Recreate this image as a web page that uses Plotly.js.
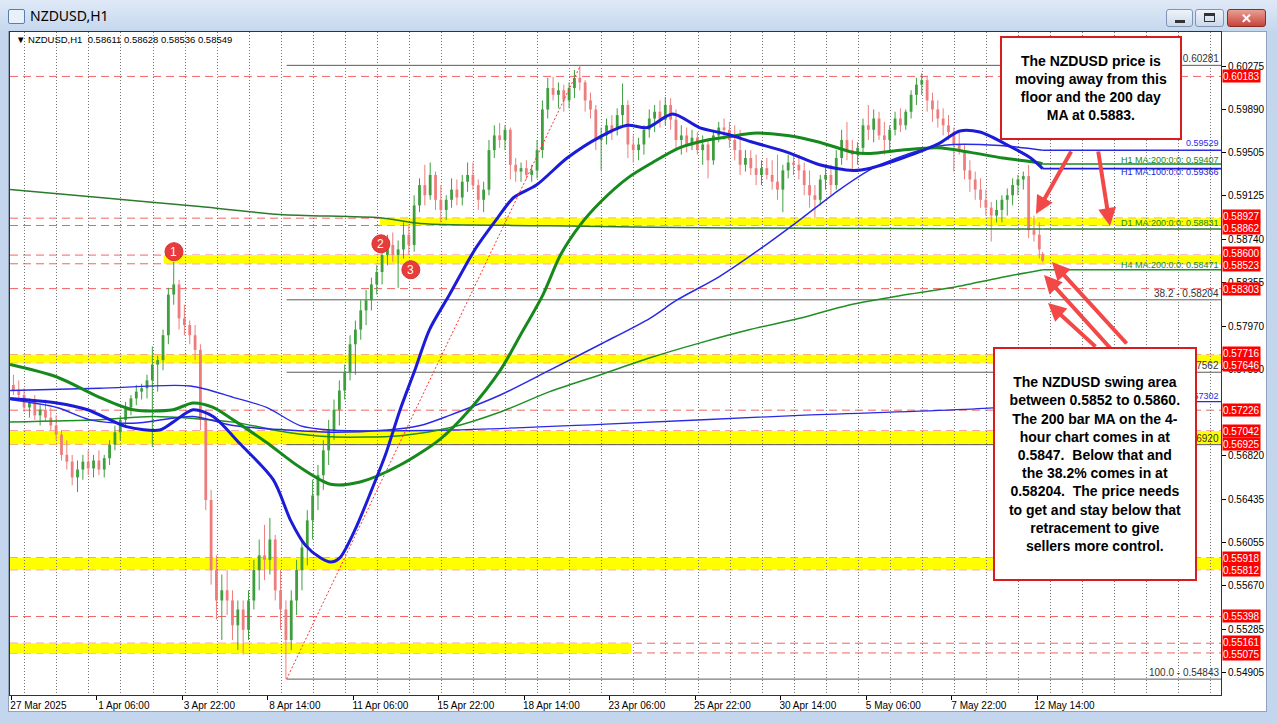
<!DOCTYPE html>
<html><head><meta charset="utf-8">
<script src="https://cdn.plot.ly/plotly-3.0.1.min.js"></script>
<style>
body{margin:0;width:1277px;height:724px;overflow:hidden;background:#c3d6ed;position:relative;font-family:"Noto Sans",sans-serif}
#titlebar{position:absolute;left:0;top:0;width:1277px;height:31px;background:linear-gradient(#dfe9f6,#c6d8ee)}
#ttl{position:absolute;left:30px;top:6px;font-size:14px;color:#000}
#icon{position:absolute;left:8px;top:9px;width:15px;height:13px;border:1px solid #5a7fae;background:#e8f0fa;border-radius:2px}
.btn{position:absolute;top:9px;height:18px;border:1px solid #7f95b3;border-radius:3px;background:linear-gradient(#eef3fa,#cbd9ea);box-sizing:border-box}
#client{position:absolute;left:8px;top:31px;width:1259px;height:681px;background:#fff;border:1px solid #8fa3bd;box-sizing:border-box}
#chart{position:absolute;left:0;top:0;width:1277px;height:724px}
</style>
</head><body>
<div id="titlebar"></div>
<div id="icon"></div>
<div id="ttl">NZDUSD,H1</div>
<div class="btn" style="left:1166px;width:27px"><div style="position:absolute;left:8px;top:10px;width:10px;height:3px;background:#333"></div></div>
<div class="btn" style="left:1195px;width:29px"><div style="position:absolute;left:8px;top:3px;width:11px;height:9px;border:1px solid #333;border-top-width:3px;box-sizing:border-box"></div></div>
<div class="btn" style="left:1227px;width:39px;background:linear-gradient(#e8a092,#c7443a);border-color:#8c2c24;color:#fff;font-size:13px;text-align:center;line-height:16px;font-weight:bold">&#x2715;</div>
<div id="client"></div>
<div id="chart"></div>
<script>
// ---------------- DATA ----------------
const barsPerCandle = 4;          // H1 bars summarised by each drawn candle
const lastBarIndex = 772;          // index of the last H1 bar (12 May 18:00)

const candleOpen = [
.5745,.5740,.5736,.5725,.5730,.5718,.5723,.5716,.5709,.5701,
.5683,.5677,.5663,.5670,.5677,.5671,.5678,.5670,.5680,.5692,
.5703,.5714,.5725,.5733,.5739,.5742,.5749,.5763,.5767,.5789,
.5825,.5834,.5804,.5798,.5789,.5776,.5714,.5643,.5581,.5554,
.5563,.5554,.5532,.5546,.5528,.5554,.5581,.5594,.5590,.5608,
.5563,.5546,.5519,.5554,.5581,.5601,.5625,.5647,.5665,.5687,
.5705,.5723,.5740,.5756,.5781,.5794,.5811,.5820,.5834,.5845,
.5860,.5869,.5860,.5865,.5878,.5869,.5904,.5922,.5913,.5931,
.5909,.5900,.5909,.5918,.5911,.5925,.5931,.5922,.5909,.5918,
.5953,.5966,.5962,.5971,.5940,.5934,.5937,.5931,.5935,.5953,
.5989,.6008,.6002,.6006,.5997,.6008,.6017,.6013,.5997,.5989,
.5962,.5966,.5975,.5971,.5984,.5993,.5958,.5953,.5958,.5971,
.5981,.5987,.5980,.5993,.5980,.5962,.5966,.5958,.5964,.5953,
.5958,.5944,.5966,.5973,.5971,.5962,.5953,.5940,.5946,.5937,
.5931,.5937,.5931,.5925,.5918,.5935,.5942,.5940,.5935,.5922,
.5913,.5909,.5927,.5931,.5922,.5946,.5962,.5953,.5949,.5955,
.5975,.5971,.5981,.5966,.5962,.5971,.5981,.5975,.5987,.6002,
.6011,.6015,.5997,.5989,.5981,.5975,.5969,.5958,.5953,.5935,
.5927,.5918,.5909,.5902,.5895,.5900,.5909,.5913,.5922,.5927,
.5930,.5882,.5878,0.58611];
const candleHigh = [
.5754,.5749,.5742,.5733,.5736,.5727,.5732,.5725,.5718,.5705,
.5696,.5683,.5678,.5683,.5687,.5683,.5687,.5683,.5696,.5709,
.5718,.5730,.5736,.5745,.5746,.5754,.5779,.5771,.5794,.5831,
.5854,.5838,.5816,.5802,.5798,.5781,.5723,.5652,.5594,.5577,
.5581,.5563,.5554,.5554,.5563,.5590,.5608,.5621,.5627,.5612,
.5581,.5554,.5563,.5590,.5608,.5634,.5661,.5674,.5696,.5714,
.5732,.5749,.5763,.5789,.5802,.5820,.5829,.5840,.5851,.5866,
.5878,.5880,.5873,.5889,.5887,.5913,.5928,.5940,.5942,.5934,
.5922,.5913,.5928,.5927,.5931,.5942,.5942,.5927,.5925,.5962,
.5975,.5977,.5975,.5973,.5946,.5942,.5944,.5940,.5962,.5997,
.6017,.6018,.6013,.6011,.6013,.6024,.6028,.6015,.6004,.5993,
.5973,.5981,.5984,.5990,.6012,.5997,.5966,.5964,.5975,.5989,
.5993,.5997,.6000,.5999,.5989,.5975,.5973,.5971,.5969,.5966,
.5962,.5971,.5978,.5981,.5978,.5975,.5971,.5953,.5953,.5949,
.5944,.5946,.5944,.5949,.5940,.5949,.5949,.5949,.5942,.5935,
.5922,.5931,.5940,.5940,.5953,.5971,.5978,.5962,.5960,.5981,
.5993,.5989,.5987,.5978,.5975,.5987,.5990,.5989,.6006,.6017,
.6021,.6019,.6004,.5997,.5990,.5984,.5973,.5969,.5958,.5944,
.5934,.5928,.5918,.5907,.5909,.5913,.5919,.5928,.5931,.5934,
.5940,.5895,.5889,0.58628];
const candleLow = [
.5736,.5732,.5721,.5716,.5714,.5709,.5712,.5705,.5696,.5678,
.5670,.5656,.5650,.5661,.5665,.5663,.5665,.5663,.5674,.5687,
.5696,.5707,.5718,.5727,.5732,.5733,.5690,.5739,.5758,.5781,
.5816,.5794,.5789,.5781,.5767,.5705,.5634,.5568,.5537,.5519,
.5541,.5519,.5510,.5506,.5519,.5546,.5563,.5572,.5577,.5554,
.5528,.54843,.5510,.5541,.5563,.5585,.5608,.5634,.5652,.5674,
.5696,.5709,.5732,.5749,.5754,.5785,.5798,.5811,.5825,.5834,
.5851,.5854,.5831,.5857,.5860,.5863,.5898,.5904,.5909,.5900,
.5889,.5891,.5902,.5904,.5904,.5916,.5918,.5900,.5898,.5913,
.5946,.5955,.5953,.5927,.5925,.5925,.5927,.5925,.5928,.5946,
.5981,.5997,.5990,.5987,.5990,.5999,.6006,.5987,.5981,.5953,
.5935,.5958,.5962,.5966,.5975,.5946,.5942,.5944,.5949,.5964,
.5969,.5973,.5975,.5971,.5953,.5949,.5951,.5953,.5949,.5940,
.5928,.5940,.5960,.5962,.5955,.5944,.5931,.5934,.5931,.5922,
.5922,.5927,.5918,.5909,.5898,.5928,.5931,.5927,.5913,.5902,
.5893,.5904,.5918,.5913,.5918,.5940,.5944,.5935,.5940,.5949,
.5962,.5960,.5962,.5949,.5953,.5966,.5969,.5971,.5981,.5993,
.6002,.5987,.5978,.5973,.5966,.5962,.5934,.5949,.5927,.5916,
.5909,.5902,.5895,.5872,.5889,.5889,.5895,.5904,.5913,.5918,
.5875,.5872,.5857,0.58536];
const candleClose = [
.5740,.5736,.5725,.5730,.5718,.5723,.5716,.5709,.5701,.5683,
.5677,.5663,.5670,.5677,.5671,.5678,.5670,.5680,.5692,.5703,
.5714,.5725,.5733,.5739,.5742,.5749,.5763,.5767,.5789,.5825,
.5834,.5804,.5798,.5789,.5776,.5714,.5643,.5581,.5554,.5563,
.5554,.5532,.5546,.5528,.5554,.5581,.5594,.5590,.5608,.5563,
.5546,.5519,.5554,.5581,.5601,.5625,.5647,.5665,.5687,.5705,
.5723,.5740,.5756,.5781,.5794,.5811,.5820,.5834,.5845,.5860,
.5869,.5860,.5865,.5878,.5869,.5904,.5922,.5913,.5931,.5909,
.5900,.5909,.5918,.5911,.5925,.5931,.5922,.5909,.5918,.5953,
.5966,.5962,.5971,.5940,.5934,.5937,.5931,.5935,.5953,.5989,
.6008,.6002,.6006,.5997,.6008,.6017,.6013,.5997,.5989,.5962,
.5966,.5975,.5971,.5984,.5993,.5958,.5953,.5958,.5971,.5981,
.5987,.5980,.5993,.5980,.5962,.5966,.5958,.5964,.5953,.5958,
.5944,.5966,.5973,.5971,.5962,.5953,.5940,.5946,.5937,.5931,
.5937,.5931,.5925,.5918,.5935,.5942,.5940,.5935,.5922,.5913,
.5909,.5927,.5931,.5922,.5946,.5962,.5953,.5949,.5955,.5975,
.5971,.5981,.5966,.5962,.5971,.5981,.5975,.5987,.6002,.6011,
.6015,.5997,.5989,.5981,.5975,.5969,.5958,.5953,.5935,.5927,
.5918,.5909,.5902,.5895,.5900,.5909,.5913,.5922,.5927,.5930,
.5882,.5878,.5865,0.58549];

// time axis (H1 bar index -> label)
const timeTickIndex = [0,64,128,192,256,320,384,448,512,576,640,704,768];
const timeTickText = ['27 Mar 2025','1 Apr 06:00','3 Apr 22:00','8 Apr 14:00','11 Apr 06:00','15 Apr 22:00','18 Apr 14:00','23 Apr 06:00','25 Apr 22:00','30 Apr 14:00','5 May 06:00','7 May 22:00','12 May 14:00'];
const firstMidnightIndex = 10, barsPerDay = 24;

// price axis
const priceTicks = [0.54905,0.55285,0.55670,0.56055,0.56435,0.56820,0.57590,0.57970,0.58355,0.58740,0.59125,0.59505,0.59890,0.60275];
// horizontal levels (red dashed + red axis labels)
const levelPrices = [0.60183,0.58927,0.58862,0.58600,0.58523,0.58303,0.57716,0.57646,0.57226,0.57042,0.56925,0.55918,0.55812,0.55398,0.55161,0.55075];
// yellow zones
const zoneLow   = [0.58862,0.58523,0.57646,0.56925,0.55812,0.55075];
const zoneHigh  = [0.58927,0.58600,0.57716,0.57042,0.55918,0.55161];
const zoneStart = [276,114,null,null,null,null];     // bar index where zone starts (null = left edge)
const zoneEnd   = [null,null,null,null,null,464];    // bar index where zone ends (null = right edge)

// Fibonacci retracement
const fibLowIndex = 206, fibLowPrice = 0.54843;
const fibHighIndex = 426, fibHighPrice = 0.60281;
const fibLevels = [0, 38.2, 50, 61.8, 100];

// moving averages (bar index, price)
const ma100H1Idx = [-1,34,57,86,111,121,136,151,171,196,209,220,231,239,246,257,268,280,291,302,313,328,347,364,376,393,416,441,461,476,495,515,536,555,581,605,630,643,667,693,710,725,748,763,772];
const ma100H1    = [.5733,.5729,.5723,.5708,.5705,.5712,.5723,.5717,.5693,.5661,.5625,.5603,.5592,.5588,.5592,.5616,.5647,.5683,.5723,.5758,.5794,.5825,.5865,.5893,.5911,.5922,.5946,.5965,.5975,.5973,.5985,.5973,.5967,.5960,.5951,.5940,.5935,.5937,.5946,.5958,.5970,.5969,.5956,.5946,0.59366];
const ma200H1Idx = [-1,34,66,91,121,136,151,166,191,216,239,261,291,321,343,366,381,398,411,426,441,461,480,500,521,538,555,581,605,630,643,667,693,718,742,768,772];
const ma200H1    = [.5763,.5752,.5734,.5723,.5723,.5729,.5725,.5714,.5694,.5672,.5657,.5659,.5674,.5697,.5723,.5758,.5789,.5825,.5860,.5887,.5907,.5928,.5942,.5955,.5962,.5965,.5968,.5966,.5960,.5951,.5950,.5953,.5955,.5951,.5946,.5942,0.59407];
const ma100H4Idx = [-1,34,59,91,136,166,206,239,281,306,328,366,403,441,478,498,530,560,590,620,645,680,705,740,772];
const ma100H4    = [.5732,.5725,.5714,.5711,.5717,.5709,.5705,.5703,.5705,.5709,.5718,.5736,.5758,.5781,.5804,.5820,.5841,.5865,.5891,.5918,.5937,.5953,.5958,.5957,0.59529];
const ma200H4Idx = [-1,66,106,166,206,239,291,328,366,403,441,478,515,553,590,628,665,703,740,772];
const ma200H4    = [.5712,.5714,.5717,.5712,.5703,.5699,.5700,.5707,.5721,.5739,.5754,.5769,.5782,.5794,.5804,.5816,.5824,.5831,.5840,0.58471];
const ma100D1Idx = [-1,66,134,166,191,216,239,328,441,590,740,772];
const ma100D1    = [.5740,.5742,.5744,.5734,.5725,.5709,.5705,.5705,.5710,.5718,.5725,0.57302];
const ma200D1Idx = [-1,66,141,201,276,306,403,538,772];
const ma200D1    = [.5918,.5911,.5903,.5896,.5893,.5888,.5886,.5884,0.58831];

// ---------------- LAYOUT HELPERS ----------------
const PL=10, PR=1221, PT=32, PB=695;
const xRange=[-1.05,905.5];
const yRange=[0.547023,0.605765];
const px=x=>(x-PL)/(PR-PL);
const py=y=>1-(y-PT)/(PB-PT);
const priceToPix=p=>PT+(yRange[1]-p)/(yRange[1]-yRange[0])*(PB-PT);
const xMax=xRange[1];

const candleX = candleOpen.map((_,g)=>Math.min(g*barsPerCandle+1.5,lastBarIndex));
const gridIdx=[]; for(let i=firstMidnightIndex;i<xMax;i+=barsPerDay) gridIdx.push(i);

const UP='#3f9f3f', DN='#ef7d7d';
const BLUE='#1c1cd8', GREEN='#16891c', TBLUE='#2a2ae6', TGREEN='#1f8f24', DGREEN='#2c7a2c';
const traces=[];
traces.push({type:'scatter',x:[xRange[0],xRange[1]],y:[yRange[0],yRange[0]],xaxis:'x2',yaxis:'y',mode:'markers',marker:{opacity:0},hoverinfo:'skip'});
// wicks
['up','dn'].forEach(side=>{
  const wx=[],wy=[];
  candleX.forEach((x,g)=>{
    const isUp=candleClose[g]>=candleOpen[g];
    if((side==='up')===isUp){wx.push(x,x,null);wy.push(candleLow[g],candleHigh[g],null);}
  });
  traces.push({type:'scatter',mode:'lines',x:wx,y:wy,line:{color:side==='up'?UP:DN,width:1},hoverinfo:'skip',connectgaps:false});
});
// bodies
traces.push({type:'bar',x:candleX,
  base:candleOpen.map((o,g)=>Math.min(o,candleClose[g])),
  y:candleOpen.map((o,g)=>Math.max(Math.abs(candleClose[g]-o),0.00004)),
  width:2.1,marker:{color:candleOpen.map((o,g)=>candleClose[g]>=o?UP:DN),line:{width:0}},hoverinfo:'skip'});

function maLine(xs,ys,color,w){
  traces.push({type:'scatter',mode:'lines',x:xs,y:ys,line:{color:color,width:w,shape:'spline',smoothing:0.8},hoverinfo:'skip'});
  traces.push({type:'scatter',mode:'lines',x:[xs[xs.length-1],xMax],y:[ys[ys.length-1],ys[ys.length-1]],line:{color:color,width:Math.min(w,1.6)},hoverinfo:'skip'});
}
maLine(ma200D1Idx,ma200D1,DGREEN,1.5);
maLine(ma100D1Idx,ma100D1,TBLUE,1.3);
maLine(ma200H4Idx,ma200H4,TGREEN,1.5);
maLine(ma100H4Idx,ma100H4,TBLUE,1.5);
maLine(ma200H1Idx,ma200H1,GREEN,3);
maLine(ma100H1Idx,ma100H1,BLUE,3);

const shapes=[];
zoneLow.forEach((lo,k)=>{
  const s=zoneStart[k], e=zoneEnd[k];
  shapes.push({type:'rect',layer:'below',xref:'x',yref:'y',x0:s===null?xRange[0]:s,x1:e===null?xMax:e,y0:lo,y1:zoneHigh[k],fillcolor:'#ffff00',line:{width:0}});
});
levelPrices.forEach(p=>shapes.push({type:'line',layer:'below',xref:'paper',yref:'y',x0:0,x1:1,y0:p,y1:p,line:{color:'#f26464',width:1,dash:'8px,5px'}}));
const fibPrice=l=>fibHighPrice-(l/100)*(fibHighPrice-fibLowPrice);
fibLevels.forEach(l=>shapes.push({type:'line',layer:'below',xref:'x',yref:'y',x0:fibLowIndex,x1:xMax,y0:fibPrice(l),y1:fibPrice(l),line:{color:'#5a5a5a',width:1}}));
shapes.push({type:'line',layer:'above',xref:'x',yref:'y',x0:fibLowIndex,y0:fibLowPrice,x1:fibHighIndex,y1:fibHighPrice,line:{color:'#ff3030',width:1,dash:'2px,2px'}});

// numbered swing markers
const markerIdx=[121.7,276.6,299], markerPrice=[0.5863,0.5870,0.5847], markerText=['1','2','3'];
markerIdx.forEach((mx,k)=>shapes.push({type:'circle',layer:'above',xref:'x',yref:'y',xsizemode:'pixel',ysizemode:'pixel',xanchor:mx,yanchor:markerPrice[k],x0:-9,x1:9,y0:-9,y1:9,fillcolor:'#e83b3b',line:{color:'#d63030',width:1}}));

const F='Liberation Sans, Arial, sans-serif';
const ann=[];
// header
ann.push({xref:'paper',yref:'paper',x:px(14),y:py(40),xanchor:'left',yanchor:'middle',showarrow:false,
  text:'\u25BC NZDUSD,H1  0.58611 0.58628 0.58536 0.58549',font:{family:F,size:9.5,color:'#000'}});
// fib labels
fibLevels.forEach(l=>ann.push({xref:'paper',yref:'y',x:1,y:fibPrice(l),xanchor:'right',yanchor:'bottom',xshift:-1,showarrow:false,borderpad:0,
  text:l.toFixed(1)+' - '+fibPrice(l).toFixed(5),font:{family:F,size:10,color:'#333'}}));
// MA labels
function maLabel(txt,p,color,sh){ann.push({xref:'paper',yref:'y',x:1,y:p,xanchor:'right',yanchor:'middle',yshift:sh,xshift:-1,showarrow:false,borderpad:0,text:txt,font:{family:F,size:9,color:color}});}
maLabel(ma100H4[ma100H4.length-1].toFixed(5),ma100H4[ma100H4.length-1],TBLUE,7);
maLabel('H1 MA:200:0:0: '+ma200H1[ma200H1.length-1].toFixed(5),ma200H1[ma200H1.length-1],GREEN,4);
maLabel('H1 MA:100:0:0: '+ma100H1[ma100H1.length-1].toFixed(5),ma100H1[ma100H1.length-1],BLUE,-3);
maLabel('D1 MA:200:0:0: '+ma200D1[ma200D1.length-1].toFixed(5),ma200D1[ma200D1.length-1],GREEN,6);
maLabel('H4 MA:200:0:0: '+ma200H4[ma200H4.length-1].toFixed(5),ma200H4[ma200H4.length-1],GREEN,5);
maLabel(ma100D1[ma100D1.length-1].toFixed(5),ma100D1[ma100D1.length-1],TBLUE,6);
// red axis labels, pushed apart so that they stack without covering each other
const LH=12;
const pos=levelPrices.map(priceToPix);
const adj=pos.slice();
for(let it=0;it<40;it++){
  for(let k=0;k<adj.length-1;k++){
    const d=adj[k+1]-adj[k];
    if(d<LH){const m=(LH-d)/2;adj[k]-=m;adj[k+1]+=m;}
  }
}
levelPrices.forEach((p,k)=>ann.push({xref:'paper',yref:'y',x:1,y:p,xanchor:'left',yanchor:'middle',xshift:1,yshift:pos[k]-adj[k],showarrow:false,
  text:p.toFixed(5),bgcolor:'#ff0000',borderpad:0,height:LH,font:{family:F,size:10,color:'#fff'}}));
// marker numbers
markerIdx.forEach((mx,k)=>ann.push({xref:'x',yref:'y',x:mx,y:markerPrice[k],showarrow:false,text:markerText[k],font:{family:F,size:12,color:'#fff'}}));
// arrows
const arrowHeads=[[1036,214],[1110,226],[1052,262],[1044,275],[1048,303]];
const arrowTails=[[1072,150],[1098,150],[1128,345],[1112,350],[1097,348]];
arrowHeads.forEach((h,k)=>ann.push({xref:'paper',yref:'paper',x:px(h[0]),y:py(h[1]),ax:arrowTails[k][0]-h[0],ay:arrowTails[k][1]-h[1],
  showarrow:true,arrowhead:2,arrowsize:0.9,arrowwidth:4,arrowcolor:'#f24848',text:''}));
// text boxes
ann.push({xref:'paper',yref:'paper',x:px(1091),y:py(88),xanchor:'center',yanchor:'middle',showarrow:false,
  width:178,height:100,bgcolor:'#fff',bordercolor:'#d91c1c',borderwidth:2,borderpad:0,align:'center',
  text:'<b>The NZDUSD price is<br>moving away from this<br>floor and the 200 day<br>MA at 0.5883.</b>',font:{family:F,size:14,color:'#000'}});
ann.push({xref:'paper',yref:'paper',x:px(1095),y:py(464),xanchor:'center',yanchor:'middle',showarrow:false,
  width:200,height:230,bgcolor:'#fff',bordercolor:'#d91c1c',borderwidth:2,borderpad:0,align:'center',
  text:'<b>The NZDUSD swing area<br>between 0.5852 to 0.5860.<br>The 200 bar MA on the 4-<br>hour chart comes in at<br>0.5847.  Below that and<br>the 38.2% comes in at<br>0.58204.  The price needs<br>to get and stay below that<br>retracement to give<br>sellers more control.</b>',
  font:{family:F,size:14,color:'#000'}});

const layout={
  width:1277,height:724,margin:{l:PL,r:1277-PR,t:PT,b:724-PB,pad:0},
  paper_bgcolor:'rgba(0,0,0,0)',plot_bgcolor:'#fff',showlegend:false,hovermode:false,barmode:'overlay',
  xaxis:{range:xRange,tickmode:'array',tickvals:timeTickIndex,ticktext:timeTickText,ticks:'outside',ticklen:4,tickcolor:'#000',
    tickfont:{family:F,size:10,color:'#000'},ticklabelshift:27,ticklabelstandoff:-3,showgrid:false,showline:true,linecolor:'#333',linewidth:1,mirror:true,zeroline:false,
    fixedrange:true},
  xaxis2:{range:xRange,overlaying:'x',anchor:'y',tickmode:'array',tickvals:gridIdx,showticklabels:false,ticks:'',showgrid:true,
    gridcolor:'#777',gridwidth:1,griddash:'1px,2px',showline:false,zeroline:false},
  yaxis:{range:yRange,side:'right',tickmode:'array',tickvals:priceTicks,ticktext:priceTicks.map(v=>v.toFixed(5)),ticks:'outside',ticklen:4,
    tickcolor:'#000',tickfont:{family:F,size:10,color:'#000'},showgrid:false,showline:true,linecolor:'#333',linewidth:1,mirror:true,zeroline:false},
  shapes:shapes,annotations:ann
};
Plotly.newPlot('chart',traces,layout,{staticPlot:true,displayModeBar:false});
</script>
</body></html>
